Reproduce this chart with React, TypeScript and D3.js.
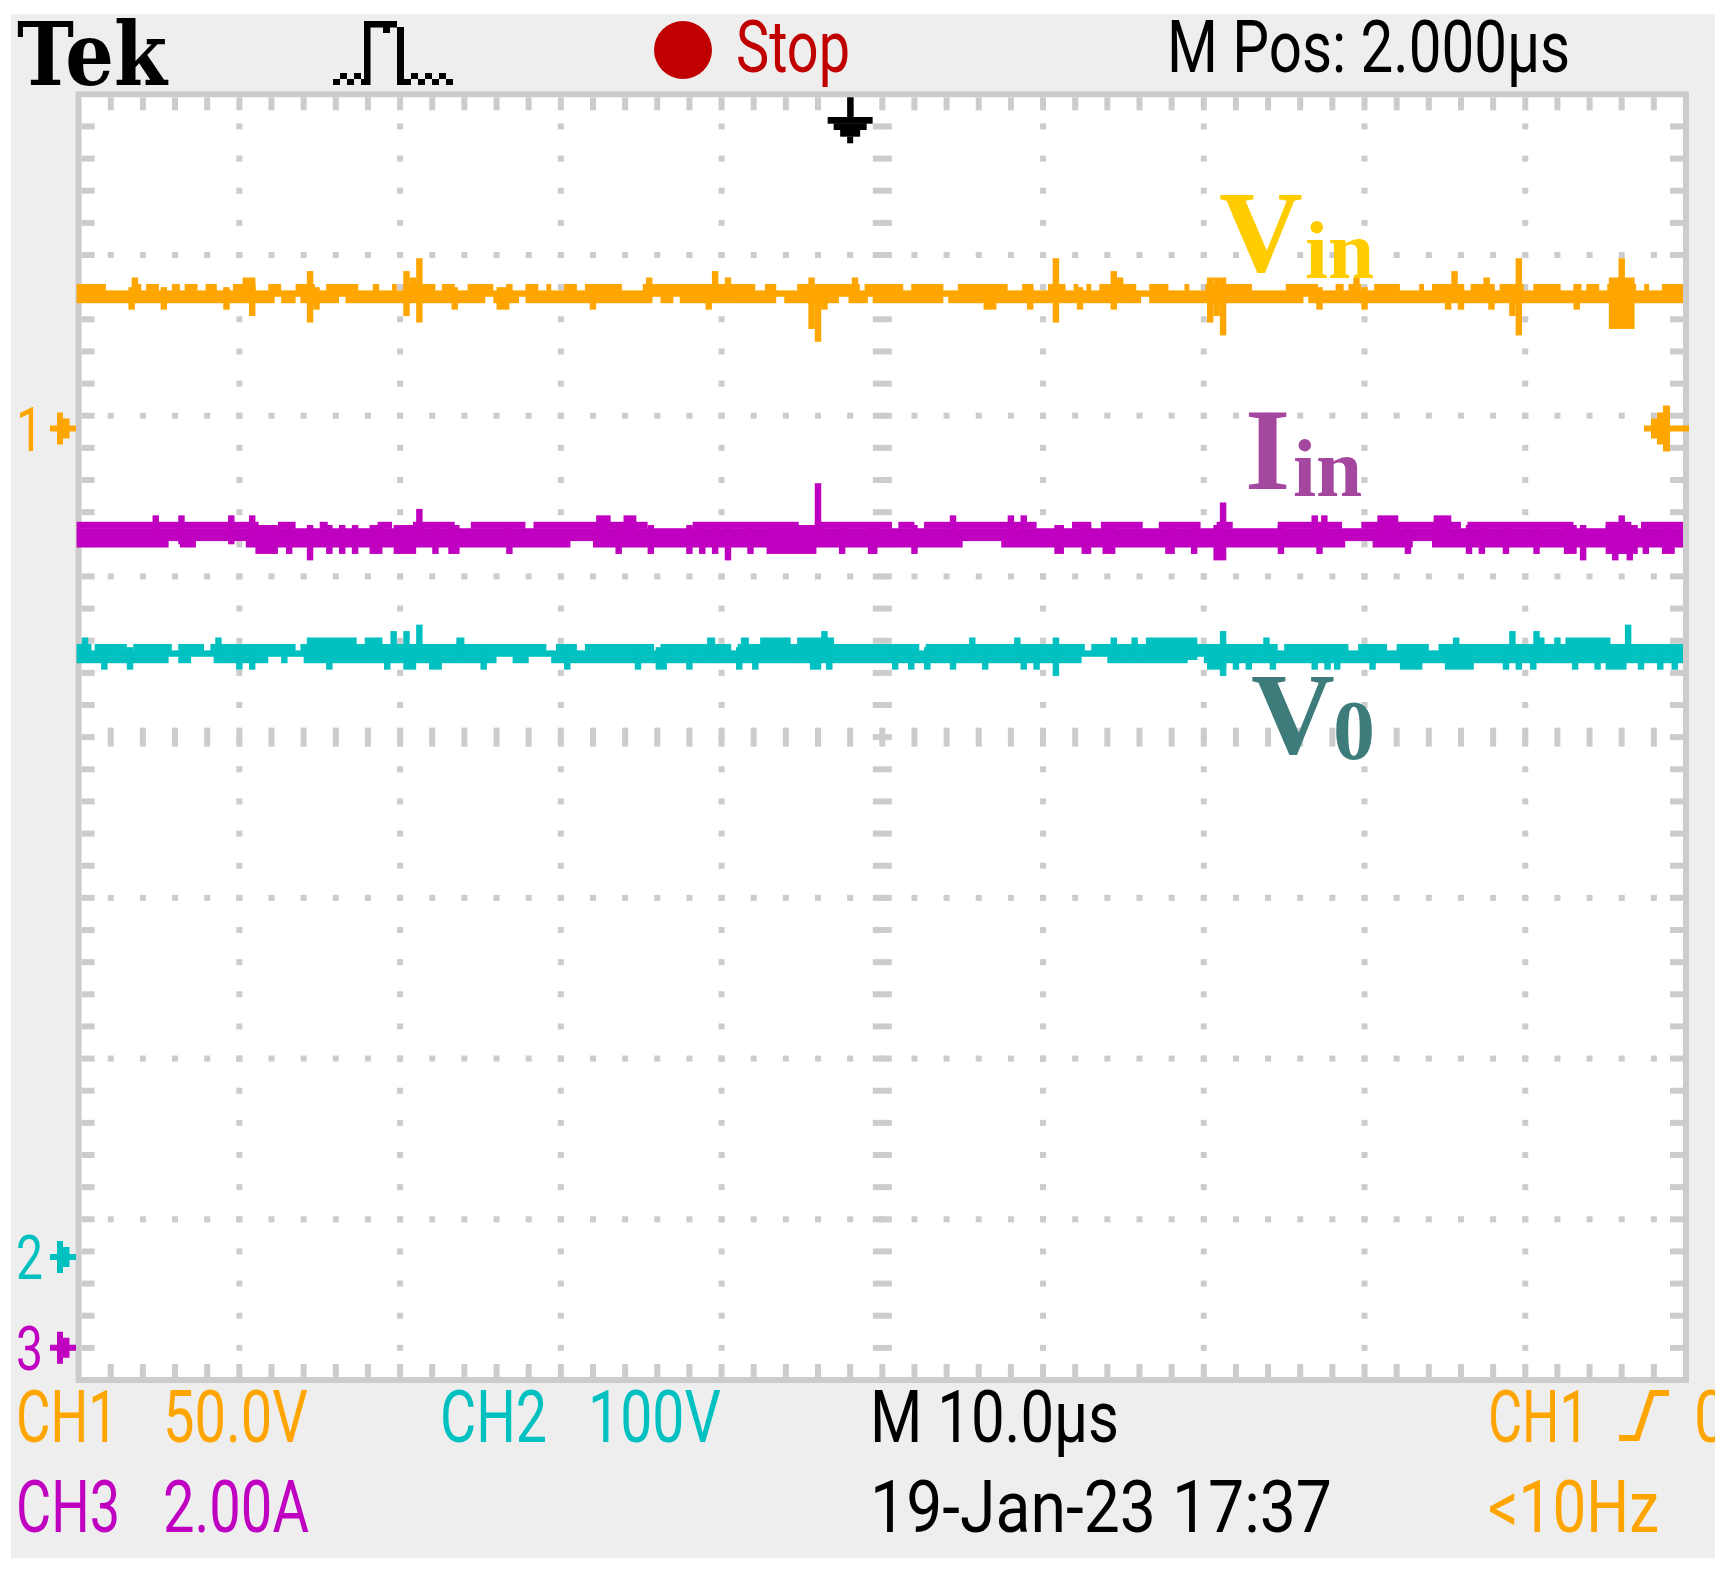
import React, { useEffect, useRef } from 'react'
import * as d3 from 'd3'

// [from div, to div, extent up, extent down] -- extents in scope pixels (25 per div)
type Glitch = [number, number, number, number]
// [from div, to div] where the outer pixel row of the trace is missing
type Gap = [number, number]

// screen: 10 horizontal divisions, 8 vertical divisions
const timeDomain = [0, 10]
const ampDomain = [-4, 4]

// trace levels in divisions (0 = centre line)
const vinLevel = 2.76
const iinLevel = 1.26
const v0Level = 0.52

// channel ground markers, trigger level and trigger position (div)
const markerNames = ['1', '2', '3']
const markerLevels = [1.92, -3.235, -3.8]
const triggerLevel = 1.92
const triggerPos = 4.8

// readouts
const topTexts = ['Stop', 'M Pos: 2.000µs']
const ch1Text = ['CH1', '50.0V']
const ch2Text = ['CH2', '100V']
const ch3Text = ['CH3', '2.00A']
const timeText = ['M 10.0µs', '19-Jan-23 17:37']
const trigText = ['CH1', '0', '<10Hz']

const vinGlitches: Glitch[] = [
    [0.31, 0.35, 0, 2.5], [0.33, 0.37, 2.5, 0], [0.51, 0.55, 0, 2.5],
    [0.9, 0.94, 0, 2.5], [1.02, 1.1, 2.5, 0], [1.06, 1.1, 0, 3.5],
    [1.42, 1.46, 3.5, 4.5], [1.46, 1.5, 0, 2.5], [2.02, 2.06, 3.5, 3.5],
    [2.06, 2.1, 2.5, 0], [2.1, 2.14, 5.5, 4.5], [2.32, 2.36, 0, 2.5],
    [2.6, 2.68, 0, 2.5], [3.18, 3.22, 0, 2.5], [3.53, 3.57, 2.5, 0],
    [3.9, 3.94, 0, 2.5], [3.94, 3.98, 3.5, 0], [4.02, 4.06, 2.5, 0],
    [4.54, 4.58, 2.5, 5.5], [4.58, 4.62, 0, 7.5], [4.62, 4.66, 0, 2.5],
    [4.81, 4.85, 2.5, 0], [5.63, 5.71, 0, 2.5], [5.9, 5.94, 0, 2.5],
    [6.06, 6.1, 5.5, 4.5], [6.21, 6.25, 0, 2.5], [6.42, 6.46, 3.5, 2.5],
    [6.46, 6.5, 2.5, 0], [7.02, 7.06, 2.5, 4.5], [7.06, 7.1, 2.5, 3.5],
    [7.1, 7.14, 2.5, 6.5], [7.7, 7.74, 0, 2.5], [7.93, 7.97, 2.5, 0],
    [7.98, 8.02, 0, 2.5], [8.5, 8.54, 0, 2.5], [8.54, 8.58, 3.5, 0],
    [8.58, 8.62, 0, 2.5], [8.74, 8.78, 2.5, 0], [8.77, 8.81, 0, 2.5],
    [8.9, 8.94, 0, 3.5], [8.94, 8.98, 5.5, 6.5], [9.3, 9.34, 0, 2.5],
    [9.52, 9.68, 2.5, 5.5], [9.58, 9.62, 5.5, 0],
]
const vinTopGaps: Gap[] = [
    [0.17, 0.34], [0.39, 0.42], [0.5, 0.58], [0.63, 0.66], [0.74, 0.79],
    [0.86, 0.96], [1.1, 1.18], [1.26, 1.35], [1.47, 1.54], [1.74, 1.83],
    [1.87, 1.95], [1.98, 2.02], [2.22, 2.26], [2.34, 2.42], [2.58, 2.66],
    [2.7, 2.78], [2.86, 2.91], [2.94, 3.02], [3.1, 3.15], [3.38, 3.51],
    [4.21, 4.27], [4.34, 4.47], [4.86, 4.89], [5.13, 5.18], [5.38, 5.47],
    [5.78, 5.87], [5.94, 6.03], [6.14, 6.19], [6.22, 6.27], [6.3, 6.35],
    [6.58, 6.66], [6.78, 6.88], [6.91, 7.01], [7.3, 7.51], [7.71, 7.82],
    [7.87, 7.9], [7.98, 8.06], [8.22, 8.34], [8.37, 8.42], [8.62, 8.66],
    [8.81, 8.84], [8.99, 9.05], [9.22, 9.3], [9.35, 9.38], [9.46, 9.51],
    [9.69, 9.74], [9.77, 9.85],
]
const vinBottomGaps: Gap[] = [
    [1.22, 1.26], [1.35, 1.38], [1.62, 1.66], [2.53, 2.58], [2.74, 2.78],
    [3.57, 3.62], [3.7, 3.74], [4.34, 4.39], [4.73, 4.79], [4.91, 4.94],
    [5.38, 5.41], [6.61, 6.66], [7.62, 7.65],
]

const iinGlitches: Glitch[] = [
    [0.46, 0.5, 3, 0], [0.62, 0.66, 3, 0], [0.93, 0.97, 3, 0],
    [1.06, 1.1, 3, 0], [3.22, 3.31, 3, 0], [3.39, 3.47, 3, 0],
    [5.42, 5.46, 3, 0], [5.78, 5.82, 3, 0], [5.86, 5.9, 3, 0],
    [7.67, 7.71, 3, 0], [7.73, 7.77, 3, 0], [8.08, 8.21, 3, 0],
    [8.43, 8.54, 3, 0], [9.58, 9.62, 3, 0], [2.1, 2.14, 4, 0],
    [7.1, 7.14, 5, 0], [4.58, 4.62, 8, 0],
    [1.1, 1.24, 0, 3], [1.29, 1.33, 0, 3], [1.54, 1.58, 0, 3],
    [1.62, 1.66, 0, 3], [1.7, 1.74, 0, 3], [1.81, 1.89, 0, 3],
    [1.96, 2.1, 0, 3], [2.2, 2.24, 0, 3], [2.3, 2.37, 0, 3],
    [2.66, 2.7, 0, 3], [3.34, 3.38, 0, 3], [3.54, 3.58, 0, 3],
    [3.78, 3.82, 0, 3], [3.86, 3.9, 0, 3], [3.94, 3.98, 0, 3],
    [4.16, 4.2, 0, 3], [4.28, 4.59, 0, 3], [4.73, 4.77, 0, 3],
    [4.91, 4.97, 0, 3], [5.18, 5.22, 0, 3], [6.07, 6.13, 0, 3],
    [6.24, 6.3, 0, 3], [6.37, 6.45, 0, 3], [6.76, 6.82, 0, 3],
    [6.92, 6.96, 0, 3], [7.46, 7.5, 0, 3], [7.7, 7.74, 0, 3],
    [8.25, 8.29, 0, 3], [8.63, 8.67, 0, 3], [8.71, 8.75, 0, 3],
    [8.86, 8.9, 0, 3], [9.05, 9.09, 0, 3], [9.24, 9.32, 0, 3],
    [9.5, 9.7, 0, 3], [9.73, 9.77, 0, 3], [9.85, 9.93, 0, 3],
    [1.42, 1.46, 0, 4], [4.02, 4.06, 0, 4], [7.06, 7.14, 0, 4],
    [9.34, 9.38, 0, 4], [9.54, 9.58, 0, 4], [9.63, 9.67, 0, 4],
]
const iinTopGaps: Gap[] = [
    [1.12, 1.24], [1.35, 1.5], [1.55, 1.86], [1.95, 2.08], [2.34, 2.44],
    [2.78, 2.83], [3.54, 3.82], [4.48, 4.58], [5.06, 5.1], [5.2, 5.26],
    [5.96, 6.18], [6.3, 6.36], [6.62, 6.72], [6.98, 7.08], [7.18, 7.46],
    [7.86, 7.98], [8.6, 8.64], [9.3, 9.5], [9.66, 9.72],
]
const iinBottomGaps: Gap[] = [
    [0.56, 0.63], [0.73, 1.04], [3.06, 3.2], [5.5, 5.74], [7.88, 8.05],
    [8.3, 8.42],
]

const v0Glitches: Glitch[] = [
    [0.02, 0.06, 2.5, 0], [0.85, 0.89, 2.5, 0], [1.42, 1.73, 2.5, 0],
    [1.78, 1.89, 2.5, 0], [2.35, 2.4, 2.5, 0], [3.91, 3.96, 2.5, 0],
    [4.12, 4.17, 2.5, 0], [4.24, 4.43, 2.5, 0], [4.47, 4.7, 2.5, 0],
    [5.54, 5.58, 2.5, 0], [5.82, 5.86, 2.5, 0], [6.06, 6.1, 2.5, 0],
    [6.42, 6.46, 2.5, 0], [6.55, 6.59, 2.5, 0], [6.64, 6.96, 2.5, 0],
    [7.37, 7.41, 2.5, 0], [8.55, 8.59, 2.5, 0], [9.08, 9.12, 2.5, 0],
    [9.18, 9.22, 2.5, 0], [9.25, 9.53, 2.5, 0],
    [1.94, 1.98, 3.5, 0], [2.02, 2.06, 3.5, 0], [4.62, 4.66, 3.5, 0],
    [7.1, 7.14, 3.5, 0], [8.9, 8.94, 3.5, 0], [9.05, 9.09, 3.5, 0],
    [2.1, 2.14, 4.5, 0], [9.62, 9.66, 4.5, 0],
    [0.14, 0.18, 0, 2.5], [0.3, 0.34, 0, 2.5], [0.98, 1.02, 0, 2.5],
    [1.06, 1.1, 0, 2.5], [1.54, 1.58, 0, 2.5], [1.9, 1.94, 0, 2.5],
    [2.02, 2.1, 0, 2.5], [2.18, 2.26, 0, 2.5], [2.5, 2.54, 0, 2.5],
    [3.02, 3.06, 0, 2.5], [3.46, 3.5, 0, 2.5], [3.59, 3.66, 0, 2.5],
    [3.78, 3.82, 0, 2.5], [4.09, 4.13, 0, 2.5], [4.19, 4.23, 0, 2.5],
    [4.55, 4.62, 0, 2.5], [4.65, 4.69, 0, 2.5], [5.06, 5.1, 0, 2.5],
    [5.16, 5.2, 0, 2.5], [5.26, 5.3, 0, 2.5], [5.42, 5.46, 0, 2.5],
    [5.62, 5.66, 0, 2.5], [5.86, 5.9, 0, 2.5], [5.94, 5.98, 0, 2.5],
    [7.02, 7.14, 0, 2.5], [7.18, 7.22, 0, 2.5], [7.26, 7.3, 0, 2.5],
    [7.41, 7.45, 0, 2.5], [7.67, 7.71, 0, 2.5], [7.75, 7.79, 0, 2.5],
    [7.81, 7.85, 0, 2.5], [8.03, 8.07, 0, 2.5], [8.22, 8.36, 0, 2.5],
    [8.5, 8.68, 0, 2.5], [8.86, 8.9, 0, 2.5], [8.94, 8.98, 0, 2.5],
    [9.03, 9.07, 0, 2.5], [9.29, 9.33, 0, 2.5], [9.43, 9.47, 0, 2.5],
    [9.5, 9.63, 0, 2.5], [9.7, 9.74, 0, 2.5], [9.82, 9.86, 0, 2.5],
    [9.91, 9.95, 0, 2.5], [6.06, 6.1, 0, 3.5], [7.1, 7.14, 0, 3.5],
]
const v0TopGaps: Gap[] = [
    [0.08, 0.1], [0.3, 0.34], [0.58, 0.62], [0.78, 0.82], [1.35, 1.38],
    [2.91, 2.97], [3.1, 3.15], [3.58, 3.62], [4.06, 4.1], [5.23, 5.27],
    [6.26, 6.3], [7.46, 7.5], [7.9, 7.96], [8.14, 8.2], [8.4, 8.46],
]
const v0BottomGaps: Gap[] = [
    [0.56, 0.62], [0.7, 0.84], [1.18, 1.26], [1.3, 1.4], [2.6, 2.7],
    [2.8, 2.94], [6.24, 6.4], [6.9, 7.0],
]

const ORANGE = '#ffa500'
const CYAN = '#00c0c0'
const MAGENTA = '#c000c0'
const RED = '#c00000'
const GRID = '#cccccc'
const PANEL = '#eeeeee'
const PIX = 'Roboto, "DejaVu Sans", sans-serif'
const SERIF = '"Liberation Serif", "DejaVu Serif", serif'

// parts of [0, 10] not covered by the gaps
const filled = (gaps: Gap[]): Gap[] => {
    const segs: Gap[] = []
    let start = 0
    gaps.slice()
        .sort((a, b) => a[0] - b[0])
        .forEach(([a, b]) => {
            if (a > start) segs.push([start, a])
            start = Math.max(start, b)
        })
    if (start < 10) segs.push([start, 10])
    return segs
}

const Scope: React.FC = () => {
    const svgRef = useRef<SVGSVGElement | null>(null)

    useEffect(() => {
        if (!svgRef.current) return
        const width = 1728
        const height = 1570
        const svg = d3.select(svgRef.current)
        svg.selectAll('*').remove()

        const x = d3.scaleLinear().domain(timeDomain).range([78.6, 1686])
        const y = d3.scaleLinear().domain(ampDomain).range([1380, 94.3])
        const p = (x(1) - x(0)) / 25 // one scope pixel

        svg.append('rect').attr('width', width).attr('height', height).attr('fill', '#ffffff')
        svg.append('rect')
            .attr('x', 11).attr('y', 14)
            .attr('width', 1704).attr('height', 1544)
            .attr('fill', PANEL)

        // graticule
        const gx0 = x(0), gx1 = x(10), gy0 = y(4), gy1 = y(-4)
        svg.append('rect')
            .attr('x', gx0).attr('y', gy0)
            .attr('width', gx1 - gx0).attr('height', gy1 - gy0)
            .attr('fill', '#ffffff').attr('stroke', GRID).attr('stroke-width', 6)

        const grat = svg.append('g').attr('fill', GRID)
        const minorX = d3.range(1, 50).map((i) => i / 5)
        const minorY = d3.range(1, 40).map((i) => -4 + i / 5)

        // border ticks
        minorX.forEach((t) => {
            grat.append('rect').attr('x', x(t) - 3).attr('y', gy0 + 3).attr('width', 6).attr('height', 13)
            grat.append('rect').attr('x', x(t) - 3).attr('y', gy1 - 16).attr('width', 6).attr('height', 13)
        })
        minorY.forEach((v) => {
            grat.append('rect').attr('x', gx0 + 3).attr('y', y(v) - 3).attr('width', 13).attr('height', 6)
            grat.append('rect').attr('x', gx1 - 16).attr('y', y(v) - 3).attr('width', 13).attr('height', 6)
        })

        // dotted division lines
        d3.range(1, 10).filter((i) => i !== 5).forEach((i) => {
            minorY.forEach((v) => {
                grat.append('rect').attr('x', x(i) - 3).attr('y', y(v) - 3).attr('width', 6).attr('height', 6)
            })
        })
        d3.range(-3, 4).filter((j) => j !== 0).forEach((j) => {
            minorX.forEach((t) => {
                grat.append('rect').attr('x', x(t) - 3).attr('y', y(j) - 3).attr('width', 6).attr('height', 6)
            })
        })
        // centre cross with dashes
        minorY.forEach((v) => {
            grat.append('rect').attr('x', x(5) - 9.5).attr('y', y(v) - 3).attr('width', 19).attr('height', 6)
        })
        minorX.forEach((t) => {
            grat.append('rect').attr('x', x(t) - 3).attr('y', y(0) - 9.5).attr('width', 6).attr('height', 19)
        })

        // traces
        const traces = [
            { level: vinLevel, glitches: vinGlitches, top: vinTopGaps, bottom: vinBottomGaps, color: ORANGE, half: 1.5 },
            { level: iinLevel, glitches: iinGlitches, top: iinTopGaps, bottom: iinBottomGaps, color: MAGENTA, half: 2 },
            { level: v0Level, glitches: v0Glitches, top: v0TopGaps, bottom: v0BottomGaps, color: CYAN, half: 1.5 },
        ]
        const xs = (t: number) => (t <= 0 ? x(0) - 2 : t >= 10 ? x(10) - 3 : x(t))
        traces.forEach((tr) => {
            const yc = y(tr.level)
            const inner = tr.half - 1
            const g = svg.append('g').attr('fill', tr.color)
            g.append('rect')
                .attr('x', xs(0)).attr('y', yc - inner * p)
                .attr('width', xs(10) - xs(0)).attr('height', 2 * inner * p)
            g.selectAll('rect.top')
                .data(filled(tr.top))
                .join('rect')
                .attr('class', 'top')
                .attr('x', (d) => xs(d[0]))
                .attr('width', (d) => xs(d[1]) - xs(d[0]))
                .attr('y', yc - tr.half * p)
                .attr('height', p + 0.5)
            g.selectAll('rect.bottom')
                .data(filled(tr.bottom))
                .join('rect')
                .attr('class', 'bottom')
                .attr('x', (d) => xs(d[0]))
                .attr('width', (d) => xs(d[1]) - xs(d[0]))
                .attr('y', yc + inner * p - 0.5)
                .attr('height', p + 0.5)
            g.selectAll('rect.glitch')
                .data(tr.glitches)
                .join('rect')
                .attr('class', 'glitch')
                .attr('x', (d) => x(d[0]))
                .attr('width', (d) => x(d[1]) - x(d[0]))
                .attr('y', (d) => yc - Math.max(inner + 0.5, d[2]) * p)
                .attr('height', (d) => (Math.max(inner + 0.5, d[2]) + Math.max(inner + 0.5, d[3])) * p)
        })

        // trace names
        const name = (main: string, sub: string, xm: number, ym: number, xs2: number, ys: number, color: string, subSize: number) => {
            const t = svg.append('g').attr('fill', color).attr('font-family', SERIF).attr('font-weight', 'bold')
            t.append('text').attr('x', xm).attr('y', ym).attr('font-size', 116).text(main)
            t.append('text').attr('x', xs2).attr('y', ys).attr('font-size', subSize).text(sub)
        }
        name('V', 'in', 1219, 271, 1305, 278, '#ffcc00', 83)
        name('I', 'in', 1245, 489, 1293, 496, '#a3479f', 83)
        name('V', '0', 1251, 753, 1333, 759, '#3e7b7b', 84)

        // trigger position arrow
        const tx = x(triggerPos)
        const trg = svg.append('g').attr('fill', '#000000')
        trg.append('rect').attr('x', tx - 3).attr('y', gy0 + 3).attr('width', 6.5).attr('height', 20)
        ;[[22.5, 117], [16.5, 123.3], [10, 130], [3, 136.6]].forEach(([hw, yy]) => {
            trg.append('rect').attr('x', tx - hw).attr('y', yy).attr('width', hw * 2).attr('height', 6.7)
        })

        // trigger level arrow (right)
        const tly = y(triggerLevel)
        svg.append('path')
            .attr('fill', ORANGE)
            .attr('d', `M1644,${tly - 3}H1689V${tly + 3}H1644Z M1651,${tly - 10}H1657V${tly + 10}H1651Z M1657,${tly - 16}H1663V${tly + 16}H1657Z M1663,${tly - 23}H1670V${tly + 23}H1663Z`)

        // ground markers (left)
        const markerColors = [ORANGE, CYAN, MAGENTA]
        markerLevels.forEach((lv, i) => {
            const my = y(lv)
            const g = svg.append('g').attr('fill', markerColors[i])
            g.append('text')
                .attr('x', 16).attr('y', my + 22)
                .attr('font-family', PIX).attr('font-size', 62)
                .attr('textLength', 27).attr('lengthAdjust', 'spacingAndGlyphs')
                .text(markerNames[i])
            g.append('path').attr('d', `M50,${my - 3}H76V${my + 3}H50Z M57,${my - 16}H63V${my + 16}H57Z M63,${my - 10}H69.5V${my + 10}H63Z`)
        })

        // header
        svg.append('text')
            .attr('x', 17).attr('y', 85)
            .attr('font-family', '"DejaVu Serif", serif').attr('font-weight', 'bold')
            .attr('font-size', 88).attr('textLength', 150).attr('lengthAdjust', 'spacingAndGlyphs')
            .text('Tek')

        // acquisition icon
        const icon = svg.append('g').attr('fill', '#000000')
        icon.append('rect').attr('x', 364).attr('y', 21).attr('width', 6.5).attr('height', 64)
        icon.append('rect').attr('x', 370).attr('y', 21).attr('width', 27).attr('height', 6.5)
        icon.append('rect').attr('x', 383).attr('y', 27).attr('width', 7).attr('height', 6)
        icon.append('rect').attr('x', 397).attr('y', 27).attr('width', 7).attr('height', 58)
        d3.range(0, 5).forEach((k) => {
            icon.append('rect').attr('x', 333 + k * 7).attr('y', k % 2 ? 73 : 79).attr('width', 7).attr('height', 6)
        })
        d3.range(0, 7).forEach((k) => {
            icon.append('rect').attr('x', 404 + k * 7).attr('y', k % 2 ? 73 : 79).attr('width', 7).attr('height', 6)
        })

        svg.append('ellipse').attr('cx', 683).attr('cy', 50).attr('rx', 29).attr('ry', 29).attr('fill', RED)

        const readout = (s: string, xx: number, yy: number, w: number, color: string) => {
            svg.append('text')
                .attr('x', xx).attr('y', yy)
                .attr('font-family', PIX).attr('font-size', 72)
                .attr('textLength', w).attr('lengthAdjust', 'spacingAndGlyphs')
                .attr('fill', color)
                .text(s)
        }
        readout(topTexts[0], 736, 72, 114, RED)
        readout(topTexts[1], 1167, 72, 403, '#000000')

        readout(ch1Text[0], 16, 1442, 102, ORANGE)
        readout(ch1Text[1], 163, 1442, 145, ORANGE)
        readout(ch2Text[0], 440, 1442, 107, CYAN)
        readout(ch2Text[1], 588, 1442, 133, CYAN)
        readout(ch3Text[0], 16, 1532, 104, MAGENTA)
        readout(ch3Text[1], 163, 1532, 146, MAGENTA)
        readout(timeText[0], 870, 1442, 249, '#000000')
        readout(timeText[1], 870, 1532, 462, '#000000')
        readout(trigText[0], 1488, 1442, 101, ORANGE)
        readout(trigText[2], 1488, 1532, 171, ORANGE)

        // rising edge symbol and clipped level value
        svg.append('path')
            .attr('d', 'M1619,1438H1637L1652,1393H1669')
            .attr('fill', 'none').attr('stroke', ORANGE).attr('stroke-width', 6)
        svg.append('clipPath').attr('id', 'panel-clip')
            .append('rect').attr('x', 11).attr('y', 14).attr('width', 1704).attr('height', 1544)
        svg.append('text')
            .attr('x', 1694).attr('y', 1442)
            .attr('font-family', PIX).attr('font-size', 72)
            .attr('textLength', 34).attr('lengthAdjust', 'spacingAndGlyphs')
            .attr('fill', ORANGE).attr('clip-path', 'url(#panel-clip)')
            .text(trigText[1])
    }, [])

    return (
        <div style={{ position: 'absolute', left: 0, top: 0 }}>
            <svg ref={svgRef} width={1728} height={1570} style={{ display: 'block' }}></svg>
        </div>
    )
}

export default function App() {
    return <Scope />
}
